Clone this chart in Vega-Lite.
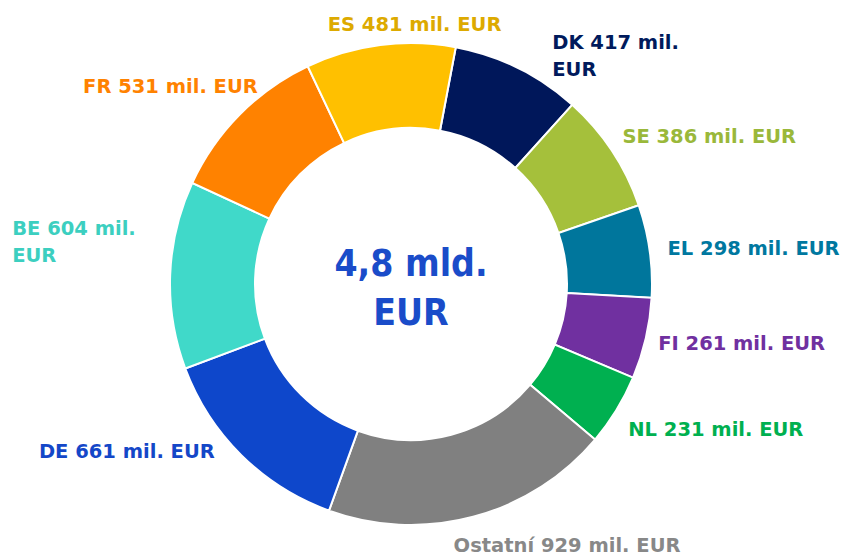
{
  "$schema": "https://vega.github.io/schema/vega-lite/v6.json",
  "width": 822,
  "height": 546,
  "autosize": {"type": "none"},
  "padding": {"left": 0, "top": 11, "right": 20, "bottom": 0},
  "background": "white",
  "data": {
    "values": [
      {"country": "DK", "value": 417, "ord": 1, "label": "DK 417 mil.\nEUR"},
      {"country": "SE", "value": 386, "ord": 2, "label": "SE 386 mil. EUR"},
      {"country": "EL", "value": 298, "ord": 3, "label": "EL 298 mil. EUR"},
      {"country": "FI", "value": 261, "ord": 4, "label": "FI 261 mil. EUR"},
      {"country": "NL", "value": 231, "ord": 5, "label": "NL 231 mil. EUR"},
      {"country": "Ostatní", "value": 929, "ord": 6, "label": "Ostatní 929 mil. EUR"},
      {"country": "DE", "value": 661, "ord": 7, "label": "DE 661 mil. EUR"},
      {"country": "BE", "value": 604, "ord": 8, "label": "BE 604 mil.\nEUR"},
      {"country": "FR", "value": 531, "ord": 9, "label": "FR 531 mil. EUR"},
      {"country": "ES", "value": 481, "ord": 10, "label": "ES 481 mil. EUR"}
    ]
  },
  "layer": [
    {
      "mark": {"type": "arc", "outerRadius": 241, "innerRadius": 156, "stroke": "white", "strokeWidth": 2},
      "encoding": {
        "theta": {"field": "value", "type": "quantitative", "stack": true, "scale": {"range": [0.1868, 6.47]}},
        "order": {"field": "ord", "type": "quantitative"},
        "color": {
          "field": "country", "type": "nominal", "legend": null,
          "scale": {
            "domain": ["DK", "SE", "EL", "FI", "NL", "Ostatní", "DE", "BE", "FR", "ES"],
            "range": ["#00175A", "#A5C03B", "#00769C", "#7030A0", "#00B050", "#808080", "#0E47CB", "#40D9C9", "#FF8200", "#FFC000"]
          }
        }
      }
    },
    {
      "mark": {
        "type": "text", "radius": 262, "fontSize": 19.5, "fontWeight": "bold", "font": "DejaVu Sans",
        "lineBreak": "\n", "lineHeight": 27, "baseline": "middle",
        "align": {"expr": "datum.country==='ES'?'center':(datum.country==='DE'||datum.country==='FR')?'right':'left'"},
        "dx": {"expr": "datum.country==='DK'?25:datum.country==='SE'?-7:datum.country==='EL'?-3:datum.country==='FI'?-8:datum.country==='NL'?-6:datum.country==='Ostatní'?-25:datum.country==='DE'?-12:datum.country==='BE'?-137:datum.country==='FR'?33:datum.country==='ES'?37:0"},
        "dy": {"expr": "datum.country==='DK'?-6:datum.country==='SE'?-2:datum.country==='EL'?1:datum.country==='FI'?1:datum.country==='NL'?9:datum.country==='Ostatní'?9:datum.country==='DE'?-18:datum.country==='BE'?-45:datum.country==='FR'?-13:datum.country==='ES'?1:0"}
      },
      "encoding": {
        "theta": {"field": "value", "type": "quantitative", "stack": true, "scale": {"range": [0.1868, 6.47]}},
        "order": {"field": "ord", "type": "quantitative"},
        "text": {"field": "label", "type": "nominal"},
        "color": {
          "field": "country", "type": "nominal", "legend": null,
          "scale": {
            "domain": ["DK", "SE", "EL", "FI", "NL", "Ostatní", "DE", "BE", "FR", "ES"],
            "range": ["#001A5C", "#9AB83A", "#0078A0", "#7030A0", "#00B050", "#888888", "#1447C8", "#3CCFC0", "#FF8200", "#DDAA00"]
          }
        }
      }
    },
    {
      "data": {"values": [{"t": "4,8 mld.\nEUR"}]},
      "mark": {"type": "text", "font": "DejaVu Sans Condensed", "fontWeight": "bold", "fontSize": 37, "lineBreak": "\n", "lineHeight": 49, "baseline": "middle", "align": "center", "color": "#1A4CC9", "dy": -19},
      "encoding": {"text": {"field": "t", "type": "nominal"}}
    }
  ],
  "resolve": {"scale": {"color": "independent"}},
  "config": {"view": {"stroke": null}}
}
